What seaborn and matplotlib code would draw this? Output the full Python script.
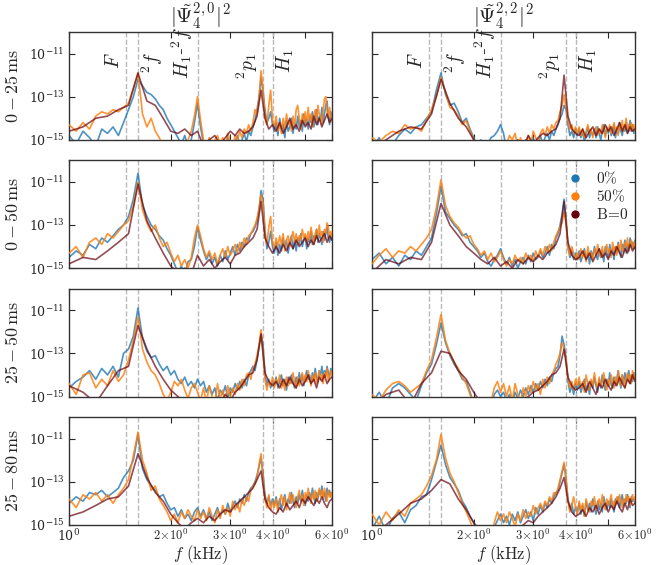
import numpy as np
import seaborn as sns
import matplotlib.pyplot as plt
import matplotlib.transforms as mtransforms
from matplotlib.lines import Line2D
from matplotlib.ticker import NullLocator, FixedLocator, FuncFormatter

# spectral grids (kHz); the B=0 run is sampled more coarsely
freq = np.linspace(1.0, 6.0, 101)
freq_b0 = np.linspace(1.0, 6.0, 51)

# log10 |Psi|^2
# ---- |Psi_4^{2,0}|^2 ----
p20_w1_pct0 = [-14.8,-15.2,-14.6,-14.9,-15.3,-14.5,-14.7,-14.4,-14.8,
    -14.2,-13.6,-13.0, -12.2,
    -12.5,-12.8,-12.9,-13.1,-13.4,-13.6,-14.0,-14.3,
    -14.6,-14.9,-15.2,-14.8,-15.3,-15.0, -14.2,-13.3,-14.4,
    -15.2,-15.4,-15.0,-15.5,-15.3,-15.1,-15.6,-15.2,-15.4,-14.9,-15.3,-15.5,-15.1,-14.8,-15.2,-15.0,-14.7,-15.1,-14.6,-14.8,-14.4,
    -14.1,-13.6,-13.0,-12.1, -12.8, -13.6,-14.2,-14.0,-13.7,-14.3,
    -14.6,-14.2,-14.8,-14.0,-14.5,-14.3,-14.9,-14.1,-14.6,-14.4,
    -14.0,-14.7,-14.2,-14.5,-13.9,-14.4,-14.1,-14.6,-13.8,-14.3,
    -14.0,-14.5,-13.9,-14.2,-13.7,-14.4,-14.0,-13.6,-14.3,-13.9,
    -14.1,-13.5,-14.2,-13.8,-13.4,-13.2,-13.9,-14.3,-13.7,-14.0]
p20_w1_pct50 = [-14.3,-14.6,-14.2,-14.5,-13.9,-13.7,-13.8,-13.6,-13.7,
    -13.5,-13.3,-12.6, -11.9,
    -13.8,-14.4,-14.0,-14.6,-14.9,-15.3,-15.1,-15.5,
    -15.2,-15.6,-15.1,-15.4,-15.0,-14.6, -13.9,-13.0,-14.1,
    -15.0,-15.3,-14.9,-15.4,-15.0,-14.8,-15.2,-14.9,-15.3,-14.7,-15.1,-15.4,-14.8,-15.0,-14.6,-14.9,-14.5,-14.7,-14.3,-14.6,-14.2,
    -13.6,-13.8,-13.1,-11.8, -12.6, -13.9,-14.3,-13.4,-12.7,-14.1,
    -14.4,-13.9,-14.6,-14.2,-14.7,-14.0,-14.5,-13.8,-14.3,-14.1,
    -14.6,-13.9,-14.4,-13.6,-13.4,-14.0,-14.5,-13.8,-14.2,-13.7,
    -14.3,-13.5,-14.1,-13.8,-14.4,-13.9,-13.6,-14.2,-13.4,-13.8,
    -13.9,-14.3,-13.6,-13.1,-13.0,-13.7,-14.0,-13.5,-13.9,-14.2]
p20_w1_b0 = [-14.6,-14.4,-14.0,-13.9,-13.6, -13.4, -11.9,
    -13.2,-13.4,-14.0,-14.6, -14.7,-14.5,-14.8, -14.6,
    -15.3,-15.0,-14.8,-15.2,-14.9,-14.6,-14.8,-14.5,-14.7,-14.6,
    -14.4,-13.9, -12.7, -14.0,-14.5,-14.3,
    -14.6,-14.2,-14.7,-14.4,-14.0,-14.5,-14.3,-14.6,-14.1,-14.4,
    -14.2,-14.5,-13.9,-14.3,-14.0,-14.4,-14.1,-13.8,-14.2,-14.0]

p20_w2_pct0 = [-14.5,-14.2,-14.4,-13.9,-14.1,-13.6,-13.8,-13.5,-13.2,
    -13.0,-12.6,-11.8, -10.6,
    -12.1,-12.6,-13.0,-13.2,-13.5,-13.7,-14.1,-14.4,
    -14.8,-15.2,-14.9,-15.3,-14.7,-14.6, -14.0,-13.1,-13.7,
    -14.2,-14.6,-14.3,-14.8,-14.5,-14.9,-14.4,-14.7,-14.2,-14.6,-14.3,-14.0,-14.4,-13.9,-14.2,-13.8,-14.0,-13.6,-13.7,-13.4,-13.3,
    -13.1,-12.8,-12.3,-11.4, -11.8, -13.2,-14.1,-13.8,-13.3,-14.0,
    -14.3,-13.8,-14.4,-13.9,-14.2,-13.6,-14.0,-13.7,-14.3,-13.8,
    -13.5,-14.1,-13.7,-14.2,-13.6,-13.9,-13.4,-14.0,-13.7,-13.5,
    -14.1,-13.6,-13.8,-13.3,-13.9,-13.5,-13.7,-13.2,-13.8,-13.4,
    -13.6,-13.9,-13.3,-13.7,-13.4,-13.1,-13.6,-13.8,-13.5,-13.7]
p20_w2_pct50 = [-14.3,-14.0,-14.5,-13.8,-13.6,-13.9,-13.4,-13.6,-13.3,
    -13.0,-12.8,-12.1, -11.0,
    -12.3,-12.9,-13.3,-13.0,-13.6,-14.0,-13.8,-14.3,
    -14.7,-14.4,-14.9,-14.6,-15.0,-14.5, -13.6,-13.0,-13.5,
    -14.1,-14.5,-14.2,-14.6,-14.3,-14.8,-14.4,-14.1,-14.5,-14.0,-14.4,-14.2,-13.9,-14.3,-13.8,-14.1,-13.6,-13.9,-13.5,-13.4,-13.2,
    -13.0,-12.7,-12.2,-11.6, -12.0, -13.4,-13.9,-13.1,-12.6,-13.8,
    -14.1,-13.6,-14.0,-13.5,-13.9,-13.4,-14.2,-13.7,-13.5,-14.0,
    -13.6,-13.3,-13.8,-13.4,-13.9,-13.5,-13.7,-13.2,-13.6,-13.4,
    -13.8,-13.3,-13.7,-13.1,-13.5,-13.9,-13.4,-13.2,-13.6,-13.0,
    -13.5,-13.3,-13.8,-13.2,-13.4,-12.9,-13.1,-13.6,-13.3,-13.5]
p20_w2_b0 = [-14.8,-14.5,-14.6,-14.2,-13.8, -13.4, -11.1,
    -12.8,-13.6,-14.3,-14.9, -15.2,-15.0,-15.3, -14.4,
    -14.9,-14.6,-15.0,-14.7,-14.5,-14.8,-14.4,-14.3,-14.0,-13.8,
    -13.6,-13.2, -11.9, -13.6,-14.0,-14.3,
    -14.0,-14.3,-13.9,-14.2,-13.8,-14.1,-13.7,-14.0,-13.8,-13.6,
    -14.0,-13.7,-13.9,-13.5,-13.8,-13.6,-13.4,-13.8,-13.5,-13.7]

p20_w3_pct0 = [-14.6,-14.3,-14.1,-13.8,-14.2,-13.7,-14.0,-13.6,-14.1,
    -13.0,-12.8,-12.2, -10.9,
    -12.3,-12.9,-13.2,-13.1,-13.5,-13.8,-13.6,-14.0,
    -13.8,-14.2,-14.4,-14.1,-14.5,-14.3, -14.6,-14.2,-14.5,
    -14.3,-14.8,-14.5,-14.9,-14.6,-15.2,-14.7,-14.9,-14.5,-15.1,-14.6,-14.8,-14.4,-14.7,-14.3,-14.6,-14.2,-14.5,-14.0,-13.8,-13.6,
    -13.8,-13.3,-12.7,-12.1, -12.6, -13.9,-14.5,-14.2,-14.6,-14.3,
    -14.5,-14.1,-14.6,-14.3,-14.0,-14.5,-14.2,-14.7,-14.1,-14.4,
    -14.0,-14.3,-14.6,-14.1,-14.4,-13.9,-14.3,-14.0,-14.5,-14.1,
    -13.8,-14.2,-14.0,-14.4,-13.9,-14.2,-13.7,-14.1,-14.3,-13.8,
    -14.0,-13.6,-14.1,-13.8,-14.0,-13.6,-13.9,-14.1,-13.7,-13.9]
p20_w3_pct50 = [-14.4,-14.9,-14.0,-13.9,-14.6,-14.2,-14.5,-13.8,-14.3,
    -14.0,-13.3,-12.4, -11.3,
    -12.8,-13.4,-13.8,-14.0,-14.4,-14.9,-15.2,-14.8,
    -14.3,-14.5,-14.2,-14.7,-15.1,-14.6, -14.4,-14.8,-15.2,
    -14.6,-15.3,-14.5,-15.0,-15.4,-14.4,-15.1,-14.7,-15.3,-14.5,-15.0,-14.6,-14.9,-14.4,-14.7,-14.2,-14.5,-14.0,-13.9,-14.2,-13.7,
    -13.5,-13.1,-12.6,-11.9, -13.0, -14.2,-14.7,-14.3,-14.5,-14.1,
    -14.6,-14.2,-14.4,-14.0,-14.6,-14.3,-14.7,-14.1,-14.5,-14.2,
    -14.4,-13.9,-14.3,-14.6,-14.1,-14.5,-14.2,-13.9,-14.4,-14.0,
    -14.3,-13.8,-14.2,-14.5,-14.0,-14.3,-13.9,-14.4,-14.1,-13.8,
    -14.2,-14.0,-14.4,-13.9,-14.1,-13.7,-14.3,-14.0,-13.8,-14.1]
p20_w3_b0 = [-14.5,-14.8,-15.3,-14.5,-13.8, -13.6, -11.7,
    -12.8,-13.6,-14.2,-14.7, -15.0,-15.3,-15.1, -15.4,
    -15.2,-15.5,-15.1,-15.3,-14.9,-15.2,-14.8,-14.6,-14.3,-14.0,
    -13.9,-13.3, -12.1, -13.9,-14.3,-14.5,
    -14.3,-14.6,-14.2,-14.5,-14.1,-14.4,-14.6,-14.2,-14.5,-14.3,
    -14.0,-14.4,-14.2,-14.6,-14.1,-14.3,-14.0,-14.4,-14.2,-14.1]

p20_w4_pct0 = [-14.0,-13.7,-13.9,-13.5,-13.6,-13.4,-13.7,-13.5,-13.3,
    -12.8,-12.5,-12.0, -10.8,
    -12.4,-12.9,-13.2,-13.4,-13.7,-13.6,-14.0,-14.3,
    -14.2,-14.6,-14.3,-14.7,-14.5,-14.8, -14.4,-14.2,-14.6,
    -14.3,-14.7,-14.4,-14.8,-14.5,-14.2,-14.6,-14.3,-14.5,-14.0,-14.4,-14.1,-13.9,-14.2,-13.8,-14.0,-13.6,-13.9,-13.5,-13.3,-13.2,
    -13.0,-12.7,-12.3,-11.9, -12.6, -13.6,-14.0,-13.7,-14.1,-13.8,
    -14.1,-13.7,-14.2,-13.8,-14.3,-13.9,-13.6,-14.1,-13.8,-14.0,
    -13.5,-13.9,-14.2,-13.7,-14.0,-13.6,-13.9,-13.4,-13.8,-14.1,
    -13.6,-13.9,-13.5,-13.8,-13.3,-13.7,-14.0,-13.5,-13.8,-13.4,
    -13.6,-13.2,-13.7,-13.5,-13.9,-13.3,-13.6,-13.4,-13.7,-13.5]
p20_w4_pct50 = [-13.8,-14.2,-13.6,-13.8,-13.5,-13.9,-13.6,-14.0,-13.6,
    -13.3,-12.9,-11.8, -10.7,
    -12.0,-12.6,-13.4,-13.2,-13.8,-14.1,-14.4,-14.8,
    -14.5,-14.9,-14.4,-14.7,-14.3,-14.6, -14.8,-14.3,-14.7,
    -14.4,-14.8,-14.2,-14.6,-14.9,-14.3,-14.7,-14.1,-14.5,-14.2,-14.6,-13.9,-14.3,-14.0,-14.4,-13.8,-14.1,-13.7,-13.9,-13.4,-13.2,
    -13.1,-12.8,-12.2,-11.7, -12.9, -13.8,-14.2,-13.6,-14.3,-13.9,
    -14.2,-13.8,-14.4,-13.9,-13.6,-14.1,-13.7,-14.3,-13.9,-13.5,
    -14.0,-13.6,-13.9,-14.2,-13.7,-13.4,-13.9,-13.6,-14.1,-13.5,
    -13.8,-13.3,-13.7,-14.0,-13.5,-13.8,-13.4,-13.9,-13.6,-13.3,
    -13.7,-13.4,-13.8,-13.3,-13.6,-13.9,-13.4,-13.7,-13.5,-13.8]
p20_w4_b0 = [-14.6,-14.4,-14.1,-13.8,-13.7, -13.2, -11.7,
    -12.8,-13.5,-13.9,-14.5, -14.9,-15.2,-14.9, -14.7,
    -14.9,-14.6,-14.8,-14.5,-14.3,-14.4,-14.1,-13.9,-13.7,-13.5,
    -13.3,-12.9, -12.5, -13.8,-14.2,-14.4,
    -14.5,-14.2,-14.4,-14.0,-14.3,-14.1,-13.9,-14.2,-13.8,-14.0,
    -13.7,-13.9,-14.1,-13.8,-14.0,-13.7,-14.0,-14.2,-13.9,-13.8]

# ---- |Psi_4^{2,2}|^2 ----
p22_w1_pct0 = [-15.4,-14.9,-15.6,-15.2,-14.8,-14.5,-14.7,-14.4,-14.3,
    -14.0,-13.7,-12.7, -11.9,
    -12.9,-13.4,-13.3,-13.7,-14.2,-14.0,-14.5,-14.9,
    -15.3,-15.0,-15.5,-15.2,-14.9,-14.8, -14.6,-14.3,-14.7,
    -15.5,-15.3,-15.6,-15.4,-15.2,-15.6,-15.3,-15.0,-15.4,-15.2,-14.9,-15.3,-15.1,-14.8,-15.2,-14.9,-14.7,-15.0,-14.6,-14.8,-14.5,
    -14.3,-14.0,-13.8,-13.4, -13.6, -14.3,-14.8,-14.6,-14.9,-14.5,
    -14.8,-14.5,-14.9,-14.6,-15.1,-14.7,-14.4,-14.9,-14.6,-14.8,
    -14.5,-14.9,-14.4,-14.7,-15.0,-14.6,-14.3,-14.8,-14.5,-14.7,
    -14.4,-14.8,-14.6,-14.3,-14.9,-14.5,-14.7,-14.2,-14.6,-14.8,
    -14.4,-14.6,-14.2,-14.7,-14.5,-14.1,-14.6,-14.3,-14.7,-14.4]
p22_w1_pct50 = [-14.9,-15.1,-14.8,-14.6,-14.7,-14.3,-14.5,-14.4,-14.6,
    -14.1,-13.6,-13.0, -12.1,
    -12.8,-13.5,-13.6,-13.9,-14.3,-14.1,-14.6,-15.0,
    -15.4,-15.2,-15.6,-15.3,-15.5,-15.4, -15.6,-15.3,-15.5,
    -15.2,-14.8,-15.0,-14.7,-15.3,-14.9,-15.4,-15.1,-14.8,-15.2,-14.6,-14.9,-15.1,-14.7,-14.5,-14.8,-14.4,-14.7,-14.3,-14.5,-14.2,
    -14.1,-13.7,-13.4,-12.9, -13.5, -14.1,-14.5,-14.3,-14.7,-14.4,
    -14.7,-14.4,-14.8,-14.5,-14.9,-14.6,-14.3,-14.7,-14.5,-14.9,
    -14.6,-14.4,-14.8,-14.5,-14.7,-14.3,-14.6,-14.9,-14.4,-14.6,
    -14.3,-14.7,-14.5,-14.2,-14.6,-14.4,-14.8,-14.3,-14.5,-14.1,
    -14.6,-14.4,-14.0,-14.5,-14.3,-14.6,-14.2,-14.5,-14.3,-14.6]
p22_w1_b0 = [-15.4,-15.0,-14.6,-14.4,-14.5, -13.8, -12.2,
    -13.3,-14.0,-14.4,-15.0, -15.5,-15.6,-15.4, -15.6,
    -15.5,-15.3,-15.0,-15.4,-14.8,-15.2,-14.9,-14.7,-14.8,-14.6,
    -14.5,-14.0, -12.0, -13.9,-14.5,-14.7,
    -14.8,-14.5,-14.9,-14.6,-14.4,-14.8,-14.5,-14.7,-14.3,-14.6,
    -14.4,-14.8,-14.5,-14.2,-14.6,-14.3,-14.7,-14.4,-14.6,-14.5]

p22_w2_pct0 = [-14.6,-14.3,-14.8,-14.5,-14.9,-14.4,-14.6,-14.2,-14.4,
    -14.0,-13.6,-12.5, -11.2,
    -12.4,-12.7,-13.0,-13.2,-13.5,-13.4,-13.8,-14.0,
    -14.2,-14.5,-14.3,-14.7,-14.9,-14.6, -14.4,-14.1,-14.5,
    -14.8,-14.5,-14.9,-14.6,-15.0,-14.7,-14.5,-14.8,-14.4,-14.7,-14.3,-14.6,-14.5,-14.2,-14.5,-14.3,-14.0,-14.4,-13.9,-14.1,-13.6,
    -13.4,-13.0,-12.5,-11.8, -12.7, -14.0,-14.5,-14.2,-14.6,-14.3,
    -14.6,-14.2,-14.7,-14.4,-14.1,-14.6,-14.3,-14.8,-14.2,-14.5,
    -14.0,-14.4,-14.6,-14.1,-14.5,-14.2,-14.7,-14.0,-14.3,-14.5,
    -13.9,-14.4,-14.1,-14.6,-14.0,-14.3,-13.8,-14.2,-14.5,-13.9,
    -14.1,-13.7,-14.3,-13.9,-14.2,-13.6,-14.0,-13.8,-14.1,-13.7]
p22_w2_pct50 = [-14.8,-14.4,-14.1,-14.5,-14.2,-14.3,-14.0,-14.2,-13.9,
    -13.6,-13.2,-12.2, -10.9,
    -12.1,-12.6,-12.9,-13.1,-13.4,-13.6,-13.5,-13.9,
    -14.1,-14.4,-14.2,-14.6,-14.3,-14.7, -14.5,-14.2,-14.6,
    -14.9,-14.6,-14.8,-14.4,-14.7,-14.5,-14.8,-14.3,-14.6,-14.4,-14.7,-14.2,-14.5,-14.1,-14.4,-14.0,-14.3,-13.9,-14.2,-13.8,-13.5,
    -13.3,-13.1,-12.9,-12.4, -12.9, -14.1,-14.4,-14.0,-14.3,-14.6,
    -14.3,-14.6,-14.1,-14.5,-14.2,-14.7,-14.0,-14.4,-14.3,-14.6,
    -14.1,-14.4,-13.9,-14.3,-14.5,-14.0,-14.4,-14.2,-13.9,-14.3,
    -14.1,-14.5,-13.8,-14.2,-14.0,-14.4,-13.9,-14.2,-13.7,-14.1,
    -14.3,-13.8,-14.0,-13.6,-14.2,-13.9,-13.7,-14.1,-13.8,-14.0]
p22_w2_b0 = [-15.2,-14.6,-14.8,-14.5,-14.6, -13.8, -12.0,
    -13.0,-13.5,-14.0,-14.3, -14.6,-14.8,-14.5, -14.9,
    -14.7,-15.0,-14.6,-14.8,-14.5,-14.7,-14.4,-14.6,-14.3,-14.1,
    -13.9,-13.4, -11.9, -13.8,-14.4,-14.6,
    -14.5,-14.2,-14.6,-14.3,-14.7,-14.4,-14.1,-14.5,-14.3,-14.6,
    -14.2,-14.4,-14.0,-14.3,-14.5,-14.1,-14.3,-13.9,-14.2,-14.0]

p22_w3_pct0 = [-15.3,-14.8,-15.4,-14.6,-14.4,-14.6,-14.9,-15.2,-14.5,
    -13.9,-13.5,-12.6, -11.6,
    -12.5,-13.1,-13.5,-13.8,-14.2,-14.3,-14.8,-15.3,
    -15.5,-15.3,-15.6,-15.2,-15.5,-14.9, -14.7,-15.0,-14.8,
    -15.2,-14.9,-15.3,-14.8,-15.1,-14.7,-15.0,-14.6,-14.9,-14.5,-14.8,-14.4,-14.7,-14.3,-14.6,-14.2,-14.5,-14.1,-14.3,-13.9,-13.7,
    -13.6,-13.1,-12.2,-12.6, -13.2, -14.3,-14.8,-14.5,-14.9,-14.4,
    -14.7,-14.3,-14.8,-14.5,-14.2,-14.7,-14.4,-14.9,-14.3,-14.6,
    -14.1,-14.5,-14.8,-14.2,-14.6,-14.0,-14.4,-14.7,-14.2,-14.5,
    -13.9,-14.4,-14.6,-14.1,-14.5,-14.2,-13.8,-14.3,-14.6,-14.0,
    -14.4,-13.9,-14.3,-14.1,-13.8,-14.4,-14.0,-14.3,-13.9,-14.2]
p22_w3_pct50 = [-14.9,-15.2,-14.7,-14.4,-14.3,-14.5,-14.8,-14.6,-14.4,
    -13.8,-13.3,-12.3, -11.2,
    -12.4,-13.0,-13.4,-13.7,-14.1,-14.4,-14.9,-15.4,
    -15.6,-15.5,-15.3,-15.6,-15.2,-14.6, -14.3,-14.8,-14.4,
    -15.0,-14.5,-15.2,-14.4,-14.9,-15.3,-14.6,-15.0,-14.5,-14.8,-14.3,-14.7,-14.4,-14.9,-14.2,-14.6,-14.1,-14.4,-14.0,-13.8,-13.5,
    -13.3,-13.0,-12.5,-12.8, -13.3, -14.1,-14.6,-14.3,-14.7,-14.2,
    -14.5,-14.1,-14.6,-14.3,-14.8,-14.0,-14.4,-14.7,-14.2,-14.5,
    -13.9,-14.4,-14.6,-14.1,-14.5,-14.3,-13.9,-14.4,-14.7,-14.2,
    -14.5,-14.0,-14.3,-14.6,-14.1,-14.4,-13.8,-14.3,-14.5,-14.0,
    -14.2,-14.6,-14.1,-13.9,-14.3,-14.0,-14.4,-13.8,-14.2,-14.0]
p22_w3_b0 = [-15.5,-14.9,-14.7,-15.4,-14.4, -13.9, -12.9,
    -13.0,-13.8,-14.2,-14.8, -15.3,-15.5,-15.4, -15.6,
    -15.5,-15.3,-15.6,-15.2,-15.0,-14.8,-14.7,-14.5,-14.3,-14.0,
    -13.9,-13.6, -12.8, -14.1,-14.5,-14.7,
    -14.6,-14.4,-14.8,-14.3,-14.6,-14.9,-14.4,-14.6,-14.2,-14.5,
    -14.7,-14.3,-14.5,-14.1,-14.4,-14.6,-14.2,-14.4,-14.0,-14.3]

p22_w4_pct0 = [-15.2,-14.6,-15.3,-14.7,-14.4,-14.9,-14.3,-14.1,-13.7,
    -13.6,-12.9,-12.1, -11.3,
    -12.2,-12.8,-13.1,-13.4,-13.9,-14.2,-14.6,-14.9,
    -15.4,-15.2,-15.5,-15.3,-15.6,-15.1, -14.8,-14.5,-14.9,
    -14.6,-15.0,-14.5,-14.8,-14.4,-14.9,-14.6,-14.3,-14.7,-14.4,-14.8,-14.2,-14.5,-14.1,-14.4,-14.0,-14.2,-13.8,-14.0,-13.7,-13.5,
    -13.4,-13.0,-12.6,-12.2, -12.9, -13.8,-14.3,-14.0,-14.5,-14.2,
    -14.4,-14.0,-14.5,-14.1,-14.6,-13.9,-14.3,-14.0,-14.4,-13.8,
    -14.2,-14.5,-13.9,-14.3,-14.0,-14.4,-13.7,-14.1,-14.3,-13.9,
    -14.2,-13.8,-14.1,-14.4,-13.8,-14.0,-13.7,-14.2,-13.9,-13.6,
    -14.1,-13.8,-14.0,-13.6,-13.9,-14.2,-13.7,-13.9,-13.8,-14.0]
p22_w4_pct50 = [-14.5,-15.0,-14.4,-14.8,-14.3,-14.6,-14.0,-13.8,-13.6,
    -13.2,-12.7,-12.0, -10.8,
    -11.9,-12.6,-13.0,-13.5,-14.0,-14.4,-14.8,-15.3,
    -15.5,-15.3,-15.6,-15.2,-15.5,-14.9, -14.4,-14.8,-14.5,
    -14.9,-14.4,-14.7,-15.1,-14.5,-14.8,-14.3,-14.7,-14.4,-14.6,-14.1,-14.5,-14.2,-14.0,-14.3,-13.9,-14.1,-13.7,-13.9,-13.5,-13.6,
    -13.3,-12.9,-12.5,-12.1, -12.8, -13.9,-14.4,-14.1,-13.7,-14.2,
    -14.5,-13.9,-14.3,-14.0,-14.6,-13.8,-14.2,-14.4,-13.9,-14.1,
    -13.7,-14.3,-14.0,-13.8,-14.2,-13.6,-14.0,-14.3,-13.8,-14.1,
    -13.9,-13.6,-14.2,-13.9,-14.1,-13.7,-14.0,-13.6,-13.9,-14.2,
    -13.8,-14.0,-13.6,-13.9,-13.7,-14.1,-13.8,-13.6,-13.9,-13.7]
p22_w4_b0 = [-15.4,-15.0,-14.5,-14.0,-13.8, -13.4, -12.9,
    -13.1,-13.8,-14.3,-14.9, -15.3,-15.5,-15.2, -15.5,
    -15.3,-15.1,-15.4,-15.0,-14.8,-14.9,-14.6,-14.4,-14.2,-14.0,
    -13.7,-13.3, -12.8, -13.9,-14.4,-14.6,
    -14.5,-14.3,-14.6,-14.2,-14.4,-14.1,-14.5,-14.2,-14.0,-14.4,
    -14.1,-14.3,-13.9,-14.2,-14.4,-14.0,-14.3,-13.8,-14.1,-14.0]

windows = ["0-25", "0-50", "25-50", "25-80"]
modes = [r"$|\tilde{\Psi}_4^{2,0}|^2$", r"$|\tilde{\Psi}_4^{2,2}|^2$"]
run_labels = [r"$0\%$", r"$50\%$", r"$\mathrm{B\!=\!0}$"]
run_colors = ["#1f77b4", "#ff7f0e", "#67000d"]

line_freqs = [1.47, 1.60, 2.40, 3.74, 4.00]
line_names = [r"$F$", r"$^2f$", r"$H_1$-$^2f$", r"$^2p_1$", r"$H_1$"]
# (side of the dashed line, bottom of the rotated text in axes fraction)
label_pos = [("right", 0.66), ("left", 0.62), ("right", 0.56), ("right", 0.56), ("left", 0.62)]

spectra = [
    [(p20_w1_pct0, p20_w1_pct50, p20_w1_b0), (p22_w1_pct0, p22_w1_pct50, p22_w1_b0)],
    [(p20_w2_pct0, p20_w2_pct50, p20_w2_b0), (p22_w2_pct0, p22_w2_pct50, p22_w2_b0)],
    [(p20_w3_pct0, p20_w3_pct50, p20_w3_b0), (p22_w3_pct0, p22_w3_pct50, p22_w3_b0)],
    [(p20_w4_pct0, p20_w4_pct50, p20_w4_b0), (p22_w4_pct0, p22_w4_pct50, p22_w4_b0)],
]

sns.set_style("ticks")
plt.rcParams["mathtext.fontset"] = "cm"
plt.rcParams["font.family"] = ["DejaVu Serif"]


def minor_fmt(v, pos):
    k = int(round(v))
    if k in (2, 3, 4, 6) and abs(v - k) < 1e-6:
        return r"$%d\!\times\!10^{0}$" % k
    return ""


fig, axes = plt.subplots(4, 2, figsize=(6.66, 5.65), dpi=100)
fig.subplots_adjust(left=0.1036, right=0.9535, top=0.9434, bottom=0.0710,
                    wspace=0.152, hspace=0.19)

for r in range(4):
    for c in range(2):
        ax = axes[r, c]
        blue, orange, b0 = spectra[r][c]
        for fx in line_freqs:
            ax.axvline(fx, color="0.72", ls="--", lw=1.0, zorder=1)
        sns.lineplot(x=freq, y=10.0 ** np.array(blue), ax=ax, color=run_colors[0],
                     lw=1.2, alpha=0.8, estimator=None, zorder=2)
        sns.lineplot(x=freq, y=10.0 ** np.array(orange), ax=ax, color=run_colors[1],
                     lw=1.2, alpha=0.85, estimator=None, zorder=3)
        sns.lineplot(x=freq_b0, y=10.0 ** np.array(b0), ax=ax, color=run_colors[2],
                     lw=1.2, alpha=0.7, estimator=None, zorder=4)
        ax.set_xscale("log")
        ax.set_yscale("log")
        ax.set_xlim(1.0, 6.0)
        ax.set_ylim(1e-15, 1e-10)
        ax.yaxis.set_major_locator(FixedLocator([1e-15, 1e-13, 1e-11]))
        ax.yaxis.set_minor_locator(NullLocator())
        ax.xaxis.set_minor_formatter(FuncFormatter(minor_fmt))
        ax.tick_params(which="both", direction="in", top=True, right=True,
                       length=4, width=0.8, pad=3)
        ax.tick_params(axis="y", labelsize=9)
        ax.tick_params(axis="x", which="both", labelsize=9, pad=2)
        for s in ax.spines.values():
            s.set_linewidth(1.0)
            s.set_color("0.2")
        ax.set_xlabel("")
        ax.set_ylabel("")
        if c == 0:
            ax.set_ylabel(r"$%s\,\mathrm{ms}$" % windows[r], fontsize=13, labelpad=5)
        else:
            ax.tick_params(which="both", labelleft=False)
        if r < 3:
            ax.tick_params(which="both", labelbottom=False)
        else:
            ax.set_xlabel(r"$f\ (\mathrm{kHz})$", fontsize=12, labelpad=0)
        if r == 0:
            ax.set_title(modes[c], fontsize=15, pad=1)
            trans = mtransforms.blended_transform_factory(ax.transData, ax.transAxes)
            for fx, name, (side, yy) in zip(line_freqs, line_names, label_pos):
                xx = fx * (0.985 if side == "right" else 1.015)
                ax.text(xx, yy, name, rotation=90, ha=side, va="bottom",
                        fontsize=14, transform=trans)

handles = [Line2D([], [], ls="", marker="o", ms=5, color=col) for col in run_colors]
axes[1, 1].legend(handles, run_labels, loc="upper left", bbox_to_anchor=(0.69, 0.97),
                  frameon=False, fontsize=11, handletextpad=0.4, labelspacing=0.15,
                  borderaxespad=0.0)

fig.savefig("out.png", dpi=100)
